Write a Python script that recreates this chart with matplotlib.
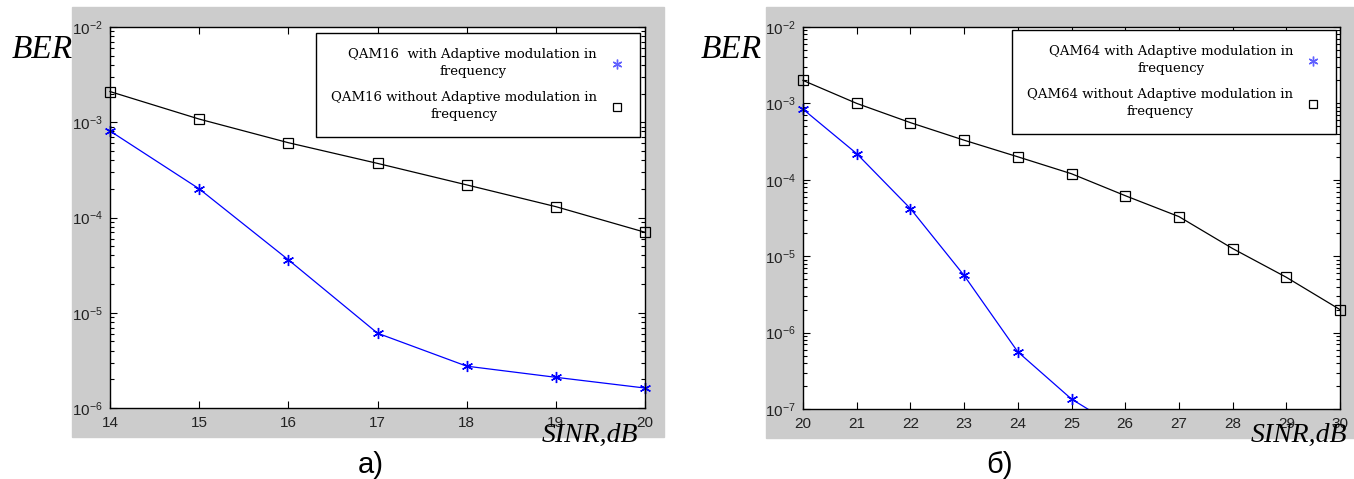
import matplotlib
matplotlib.use("Agg")
import matplotlib.pyplot as plt
from matplotlib.lines import Line2D
from matplotlib.patches import Rectangle
from matplotlib.ticker import LogLocator, NullFormatter, LogFormatterSciNotation
from matplotlib.transforms import Bbox, TransformedBbox

W, H = 1354, 479

# panel a) QAM16
sinr_16 = [14, 15, 16, 17, 18, 19, 20]
ber_16_adaptive = [8.1e-4, 2.0e-4, 3.6e-5, 6.1e-6, 2.75e-6, 2.1e-6, 1.62e-6]
ber_16_fixed = [2.1e-3, 1.08e-3, 6.1e-4, 3.7e-4, 2.2e-4, 1.3e-4, 7.0e-5]
labels_16 = ["QAM16  with Adaptive modulation in\nfrequency",
             "QAM16 without Adaptive modulation in\nfrequency"]

# panel б) QAM64
sinr_64 = [20, 21, 22, 23, 24, 25, 26, 27, 28, 29, 30]
sinr_64_adaptive = [20, 21, 22, 23, 24, 25, 26]
ber_64_adaptive = [8.4e-4, 2.2e-4, 4.2e-5, 5.6e-6, 5.6e-7, 1.35e-7, 5e-8]
ber_64_fixed = [2.0e-3, 1.0e-3, 5.6e-4, 3.3e-4, 2.0e-4, 1.2e-4,
                6.2e-5, 3.3e-5, 1.26e-5, 5.3e-6, 2.0e-6]
labels_64 = ["QAM64 with Adaptive modulation in\nfrequency",
             "QAM64 without Adaptive modulation in\nfrequency"]

GRAY = "#cccccc"
ASTERISK = (6, 2, 0)

plt.rcParams["font.family"] = ["Liberation Sans", "DejaVu Sans"]
plt.rcParams["mathtext.default"] = "regular"


def fig_rect(x0, y0, x1, y1):
    """pixel box (top-left origin) -> figure fraction rect"""
    return [x0 / W, 1 - y1 / H, (x1 - x0) / W, (y1 - y0) / H]


def draw_panel(fig, ax_px, bg_px, x, ber_ad, x_ad, ber_fx, ylim, labels, leg_px,
               ber_px, sinr_px, tag, tag_px):
    r = fig_rect(*bg_px)
    fig.add_artist(Rectangle(r[:2], r[2], r[3], transform=fig.transFigure,
                             color=GRAY, zorder=0))

    ax = fig.add_axes(fig_rect(*ax_px))
    ax.set_facecolor("white")

    # clip only top/bottom so edge markers stay whole, like matlab
    clip = TransformedBbox(Bbox([[-0.05, 0.0], [1.05, 1.0]]), ax.transAxes)
    l1, = ax.plot(x, ber_fx, color="black", lw=0.9, marker="s", ms=7,
                  mfc="none", mec="black", mew=0.9)
    l2, = ax.plot(x_ad, ber_ad, color="#0000ff", lw=0.9, marker=ASTERISK, ms=8,
                  mec="#0000ff", mew=1.0)
    for ln in (l1, l2):
        ln.set_clip_box(clip)

    ax.set_yscale("log")
    ax.set_xlim(x[0], x[-1])
    ax.set_ylim(*ylim)
    ax.set_xticks(x)
    ax.yaxis.set_major_locator(LogLocator(base=10, numticks=20))
    ax.yaxis.set_minor_locator(LogLocator(base=10, subs=range(2, 10), numticks=20))
    ax.yaxis.set_major_formatter(LogFormatterSciNotation())
    ax.yaxis.set_minor_formatter(NullFormatter())
    ax.tick_params(which="both", direction="in", top=True, right=True,
                   labelsize=11, colors="black", labelcolor="#222222")
    ax.tick_params(which="major", length=5, width=0.8, pad=6)
    ax.tick_params(which="minor", length=3, width=0.8)
    ax.tick_params(axis="y", pad=5)
    for s in ax.spines.values():
        s.set_linewidth(1.0)

    handles = [Line2D([], [], ls="none", marker=ASTERISK, ms=7, color="#0000ff",
                      mec="#6060ff", mew=1.0),
               Line2D([], [], ls="none", marker="s", ms=6, mfc="none", mec="black",
                      mew=0.9)]
    leg = ax.legend(handles, labels, loc="upper right",
                    bbox_to_anchor=(leg_px[0] / W, 1 - leg_px[1] / H),
                    bbox_transform=fig.transFigure,
                    markerfirst=False, frameon=True, fancybox=False,
                    edgecolor="black", framealpha=1, borderpad=1.15,
                    labelspacing=1.0, handlelength=1.2, handletextpad=0.9,
                    borderaxespad=0,
                    prop={"family": "DejaVu Serif", "size": 9.5})
    leg.get_frame().set_linewidth(1.0)
    for t in leg.get_texts():
        t.set_multialignment("center")
        t.set_linespacing(1.4)

    fig.text(ber_px[0] / W, 1 - ber_px[1] / H, "BER", family="Liberation Serif",
             style="italic", fontsize=24, va="baseline", ha="left")
    fig.text(sinr_px[0] / W, 1 - sinr_px[1] / H, "SINR,dB", family="Liberation Serif",
             style="italic", fontsize=20, va="baseline", ha="left")
    fig.text(tag_px[0] / W, 1 - tag_px[1] / H, tag, fontsize=21,
             va="baseline", ha="center")
    return ax


fig = plt.figure(figsize=(W / 100, H / 100), dpi=100)

draw_panel(fig, (110, 27, 645, 408), (72, 7, 664, 437),
           sinr_16, ber_16_adaptive, sinr_16, ber_16_fixed, (1e-6, 1e-2), labels_16,
           (640, 33), (12, 58), (542, 442), "а)", (371, 473))

draw_panel(fig, (803, 27, 1340, 409), (766, 7, 1354, 438),
           sinr_64, ber_64_adaptive, sinr_64_adaptive, ber_64_fixed, (1e-7, 1e-2),
           labels_64, (1336, 30), (701, 58), (1251, 442), "б)", (1000, 473))

fig.savefig("out.png", dpi=100)
plt.close(fig)
